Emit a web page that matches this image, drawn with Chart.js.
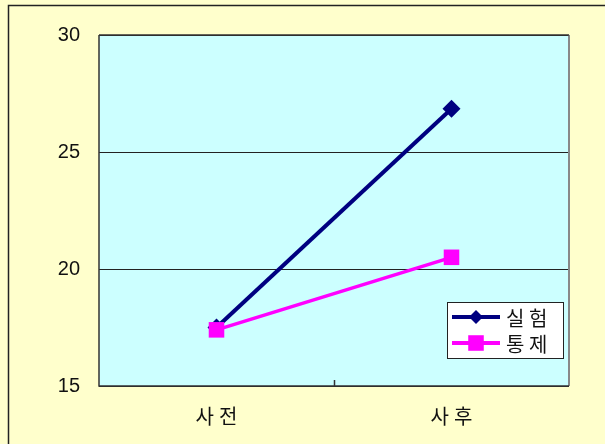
<!DOCTYPE html>
<html>
<head>
<meta charset="utf-8">
<script src="https://cdn.jsdelivr.net/npm/chart.js@4"></script>
<style>
  body { margin: 0; background: #ffffcc; }
  #wrap { position: absolute; left: 0; top: 0; width: 605px; height: 444px; }
</style>
</head>
<body>
<div id="wrap"><canvas id="chart" width="605" height="444"></canvas></div>
<script>
const categories = ["사전", "사후"];
const expLabel = "실험";
const ctrlLabel = "통제";
const expValues = [17.5, 26.85];
const ctrlValues = [17.4, 20.5];
const yMin = 15;
const yMax = 30;
const yStep = 5;

const ctx = document.getElementById("chart").getContext("2d");

// background, outer frame and plot area fill
const backdrop = {
  id: "backdrop",
  afterLayout(chart) {
    // spaced-out category labels, like the original
    const xs = chart.scales.x;
    if (xs._spaced) return;
    const orig = xs.drawLabels;
    xs.drawLabels = function (area) {
      this.ctx.save();
      this.ctx.letterSpacing = "5px";
      this.ctx.translate(2.5, 0);
      orig.call(this, area);
      this.ctx.restore();
    };
    xs._spaced = true;
  },
  beforeDraw(chart) {
    const c = chart.ctx;
    const a = chart.chartArea;
    c.save();
    c.fillStyle = "#ffffcc";
    c.fillRect(0, 0, chart.width, chart.height);
    c.strokeStyle = "#222";
    c.lineWidth = 1.5;
    c.beginPath();
    c.moveTo(8.5, chart.height + 2);
    c.lineTo(8.5, 5.5);
    c.lineTo(chart.width + 2, 5.5);
    c.stroke();
    c.fillStyle = "#ccffff";
    c.fillRect(a.left, a.top, a.right - a.left, a.bottom - a.top);
    c.restore();
  },
  beforeDatasetsDraw(chart) {
    const c = chart.ctx;
    const a = chart.chartArea;
    const x = chart.scales.x;
    c.save();
    c.strokeStyle = "#888";
    c.lineWidth = 2;
    c.beginPath();
    c.moveTo(a.right, a.top);
    c.lineTo(a.right, a.bottom);
    c.stroke();
    c.strokeStyle = "#333";
    c.lineWidth = 1.5;
    c.beginPath();
    c.moveTo(a.left, a.top);
    c.lineTo(a.right, a.top);
    c.moveTo(a.left, a.top);
    c.lineTo(a.left, a.bottom);
    c.lineTo(a.right, a.bottom);
    // tick between the two categories
    const mid = Math.round(x.getPixelForValue(0.5)) + 0.5;
    c.moveTo(mid, a.bottom);
    c.lineTo(mid, a.bottom - 6);
    c.stroke();
    c.restore();
  }
};

// boxed legend inside the plot
const boxLegend = {
  id: "boxLegend",
  afterDraw(chart) {
    const c = chart.ctx;
    const left = 447, top = 302, w = 116, h = 56;
    c.save();
    c.fillStyle = "#ffffff";
    c.fillRect(left, top, w, h);
    c.strokeStyle = "#222";
    c.lineWidth = 1;
    c.strokeRect(left + 0.5, top + 0.5, w, h);
    chart.data.datasets.forEach((ds, i) => {
      const y = top + 15 + i * 26;
      c.strokeStyle = ds.borderColor;
      c.lineWidth = 4;
      c.beginPath();
      c.moveTo(452, y);
      c.lineTo(500, y);
      c.stroke();
      c.fillStyle = ds.borderColor;
      Chart.helpers.drawPoint(c, {
        pointStyle: ds.pointStyle,
        radius: ds.pointStyle === "rect" ? 11 : 7,
        borderWidth: 0
      }, 476, y);
      c.fillStyle = "#111";
      c.font = "20px 'Noto Sans CJK KR'";
      c.textBaseline = "middle";
      c.textAlign = "left";
      const txt = ds.label.split("").join(" ");
      c.fillText(txt, 506, y + 1);
    });
    c.restore();
  }
};

new Chart(ctx, {
  type: "line",
  data: {
    labels: categories,
    datasets: [
      {
        label: expLabel,
        data: expValues,
        borderColor: "#000080",
        backgroundColor: "#000080",
        borderWidth: 4,
        pointStyle: "rectRot",
        pointRadius: 9,
        pointBorderWidth: 0,
        order: 1
      },
      {
        label: ctrlLabel,
        data: ctrlValues,
        borderColor: "#ff00ff",
        backgroundColor: "#ff00ff",
        borderWidth: 3.5,
        pointStyle: "rect",
        pointRadius: 11,
        pointBorderWidth: 0,
        order: 0
      }
    ]
  },
  options: {
    responsive: false,
    animation: false,
    layout: { padding: { left: 0, top: 35, right: 36, bottom: 0 } },
    plugins: {
      legend: { display: false },
      tooltip: { enabled: false }
    },
    scales: {
      x: {
        offset: true,
        grid: { display: false },
        border: { display: false },
        ticks: {
          color: "#111",
          padding: 10,
          font: { family: "'Noto Sans CJK KR'", size: 20 }
        },
        afterFit(scale) { scale.height = 58; }
      },
      y: {
        min: yMin,
        max: yMax,
        grid: {
          color: "#222",
          lineWidth: 1,
          drawTicks: false
        },
        border: { display: false },
        ticks: {
          stepSize: yStep,
          color: "#111",
          padding: 19,
          font: { family: "'Liberation Sans'", size: 20 }
        },
        afterFit(scale) { scale.width = 99; }
      }
    }
  },
  plugins: [backdrop, boxLegend]
});
</script>
</body>
</html>
